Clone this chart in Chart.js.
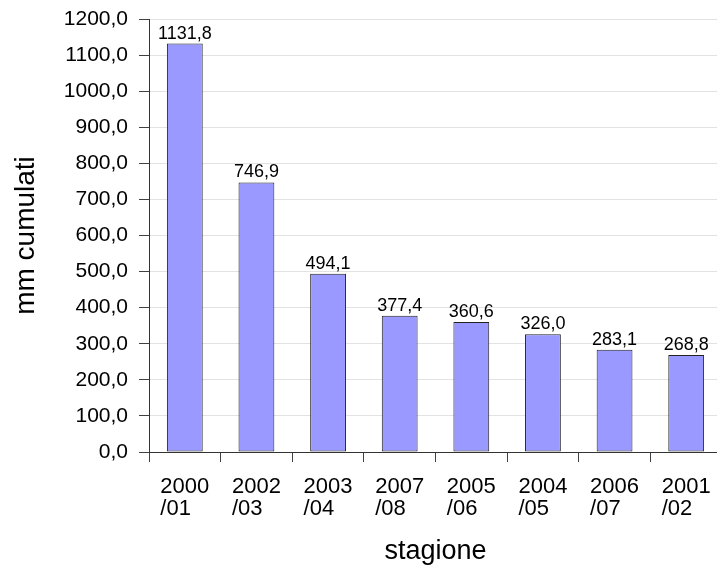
<!DOCTYPE html>
<html>
<head>
<meta charset="utf-8">
<script src="https://cdn.jsdelivr.net/npm/chart.js@4/dist/chart.umd.min.js"></script>
<style>
  html, body { margin: 0; padding: 0; background: #fff; overflow: hidden; }
  #wrap { width: 730px; height: 569px; }
</style>
</head>
<body>
<div id="wrap"><canvas id="chart" width="730" height="569"></canvas></div>
<script>
const seasons = ['2000/01', '2002/03', '2003/04', '2007/08', '2005/06', '2004/05', '2006/07', '2001/02'];
const mmValues = [1131.8, 746.9, 494.1, 377.4, 360.6, 326.0, 283.1, 268.8];
const yTicks = [0, 100, 200, 300, 400, 500, 600, 700, 800, 900, 1000, 1100, 1200];

const FONT = '"Liberation Sans", Arial, sans-serif';
const fmt = v => v.toFixed(1).replace('.', ',');

// two-line labels, second line padded so both lines start at the same x
const labels = seasons.map(s => [s.slice(0, 4), s.slice(4) + '   ']);

const valueLabels = {
  id: 'valueLabels',
  afterDatasetsDraw(chart) {
    const ctx = chart.ctx;
    const meta = chart.getDatasetMeta(0);
    ctx.save();
    ctx.font = '18px ' + FONT;
    ctx.fillStyle = '#000';
    ctx.textAlign = 'center';
    ctx.textBaseline = 'alphabetic';
    meta.data.forEach((bar, i) => {
      ctx.fillText(fmt(mmValues[i]), bar.x, bar.y - 5);
    });
    ctx.restore();
  }
};

new Chart(document.getElementById('chart'), {
  type: 'bar',
  data: {
    labels,
    datasets: [{
      data: mmValues,
      backgroundColor: '#9999FF',
      borderColor: '#222222',
      borderWidth: 1,
      borderSkipped: false,
      barPercentage: 0.5,
      categoryPercentage: 1.0,
    }]
  },
  options: {
    responsive: false,
    animation: false,
    layout: { padding: { top: 19, left: 0, right: 8, bottom: 0 } },
    plugins: {
      legend: { display: false },
      tooltip: { enabled: false },
    },
    scales: {
      x: {
        afterFit(scale) {
          scale.height = 569 - 452;
          scale.paddingLeft = 0;
          scale.paddingRight = 0;
        },
        grid: {
          display: true,
          drawOnChartArea: false,
          offset: true,
          tickLength: 10,
          color: '#404040',
        },
        border: { color: '#333333', width: 1 },
        ticks: {
          color: '#000',
          padding: 14,
          maxRotation: 0,
          autoSkip: false,
          font: { family: FONT, size: 22, lineHeight: 1.0 },
        },
        title: {
          display: true,
          text: 'stagione',
          color: '#000',
          font: { family: FONT, size: 27 },
          padding: { top: 0, bottom: 1 },
        },
      },
      y: {
        min: 0,
        max: 1200,
        afterFit(scale) {
          scale.width = 149;
          scale.paddingTop = 0;
          scale.paddingBottom = 0;
        },
        afterBuildTicks(scale) { scale.ticks = yTicks.map(v => ({ value: v })); },
        grid: {
          color: '#e2e2e2',
          tickColor: '#404040',
          tickLength: 10,
        },
        border: { color: '#333333', width: 1 },
        ticks: {
          color: '#000',
          padding: 11,
          font: { family: FONT, size: 21 },
          callback: v => fmt(v),
        },
        title: {
          display: true,
          text: 'mm cumulati',
          color: '#000',
          font: { family: FONT, size: 28 },
          padding: { top: 9, bottom: 0 },
        },
      },
    },
  },
  plugins: [valueLabels],
});
</script>
</body>
</html>
